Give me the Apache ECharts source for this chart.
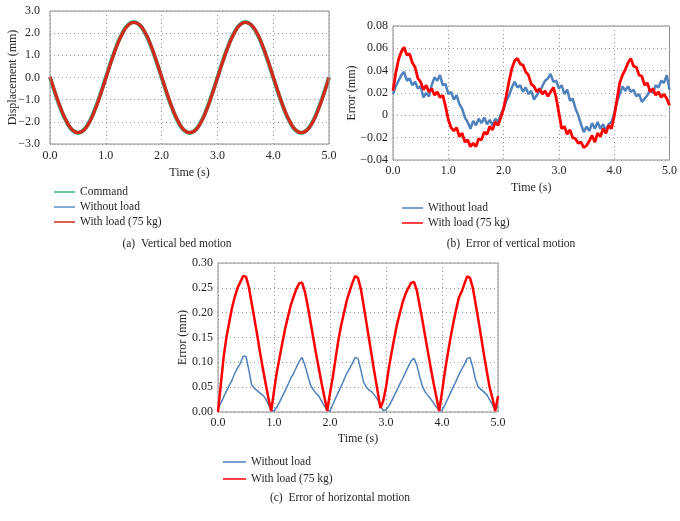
<!DOCTYPE html>
<html>
<head>
<meta charset="utf-8">
<script src="https://cdn.jsdelivr.net/npm/echarts@6/dist/echarts.min.js"></script>
<style>html,body{margin:0;padding:0;background:#fff;}#c{width:680px;height:521px;}</style>
</head>
<body>
<div id="c"></div>
<script>
// ---------- data ----------
var timeA = [0,0.1,0.2,0.3,0.4,0.5,0.6,0.7,0.8,0.9,1.0,1.1,1.2,1.3,1.4,1.5,1.6,1.7,1.8,1.9,2.0,2.1,2.2,2.3,2.4,2.5,2.6,2.7,2.8,2.9,3.0,3.1,3.2,3.3,3.4,3.5,3.6,3.7,3.8,3.9,4.0,4.1,4.2,4.3,4.4,4.5,4.6,4.7,4.8,4.9,5.0];
var commandA = [0,-0.77,-1.47,-2.02,-2.38,-2.50,-2.38,-2.02,-1.47,-0.77,0,0.77,1.47,2.02,2.38,2.50,2.38,2.02,1.47,0.77,0,-0.77,-1.47,-2.02,-2.38,-2.50,-2.38,-2.02,-1.47,-0.77,0,0.77,1.47,2.02,2.38,2.50,2.38,2.02,1.47,0.77,0,-0.77,-1.47,-2.02,-2.38,-2.50,-2.38,-2.02,-1.47,-0.77,0];
var noLoadA = [0.02,-0.75,-1.45,-2.00,-2.37,-2.49,-2.39,-2.04,-1.49,-0.79,-0.02,0.75,1.45,2.00,2.37,2.49,2.39,2.04,1.49,0.79,0.02,-0.75,-1.45,-2.00,-2.37,-2.49,-2.39,-2.04,-1.49,-0.79,-0.02,0.75,1.45,2.00,2.37,2.49,2.39,2.04,1.49,0.79,0.02,-0.75,-1.45,-2.00,-2.37,-2.49,-2.39,-2.04,-1.49,-0.79,0.0];
var loadA = [0.03,-0.74,-1.44,-1.99,-2.36,-2.49,-2.39,-2.05,-1.50,-0.80,-0.03,0.74,1.44,1.99,2.36,2.49,2.39,2.05,1.50,0.80,0.03,-0.74,-1.44,-1.99,-2.36,-2.49,-2.39,-2.05,-1.50,-0.80,-0.03,0.74,1.44,1.99,2.36,2.49,2.39,2.05,1.50,0.80,0.03,-0.74,-1.44,-1.99,-2.36,-2.49,-2.39,-2.05,-1.50,-0.80,0.0];

var timeBC = [0,0.05,0.1,0.15,0.2,0.25,0.3,0.35,0.4,0.45,0.5,0.55,0.6,0.65,0.7,0.75,0.8,0.85,0.9,0.95,1.0,1.05,1.1,1.15,1.2,1.25,1.3,1.35,1.4,1.45,1.5,1.55,1.6,1.65,1.7,1.75,1.8,1.85,1.9,1.95,2.0,2.05,2.1,2.15,2.2,2.25,2.3,2.35,2.4,2.45,2.5,2.55,2.6,2.65,2.7,2.75,2.8,2.85,2.9,2.95,3.0,3.05,3.1,3.15,3.2,3.25,3.3,3.35,3.4,3.45,3.5,3.55,3.6,3.65,3.7,3.75,3.8,3.85,3.9,3.95,4.0,4.05,4.1,4.15,4.2,4.25,4.3,4.35,4.4,4.45,4.5,4.55,4.6,4.65,4.7,4.75,4.8,4.85,4.9,4.95,5.0];

var noLoadB = [0.019,0.026,0.031,0.036,0.039,0.031,0.033,0.027,0.030,0.024,0.026,0.016,0.020,0.017,0.027,0.034,0.031,0.036,0.027,0.028,0.019,0.021,0.014,0.018,0.010,0.006,-0.002,-0.006,-0.012,-0.005,-0.009,-0.003,-0.007,-0.002,-0.008,-0.004,-0.009,-0.003,-0.006,0.001,0.006,0.013,0.018,0.025,0.030,0.025,0.027,0.021,0.025,0.019,0.022,0.014,0.018,0.022,0.026,0.031,0.033,0.037,0.030,0.031,0.024,0.027,0.019,0.023,0.013,0.015,0.006,0.000,-0.008,-0.015,-0.010,-0.014,-0.007,-0.012,-0.006,-0.012,-0.008,-0.014,-0.008,-0.006,0.002,0.012,0.019,0.026,0.022,0.026,0.021,0.023,0.017,0.019,0.012,0.015,0.018,0.023,0.020,0.027,0.025,0.031,0.029,0.036,0.023];
var loadB = [0.022,0.038,0.050,0.057,0.061,0.054,0.055,0.047,0.043,0.033,0.030,0.023,0.027,0.021,0.024,0.018,0.021,0.016,0.018,0.008,-0.004,-0.011,-0.014,-0.011,-0.019,-0.016,-0.024,-0.022,-0.028,-0.025,-0.028,-0.021,-0.022,-0.015,-0.017,-0.010,-0.013,-0.006,-0.009,-0.002,0.006,0.018,0.031,0.042,0.049,0.051,0.046,0.045,0.039,0.036,0.028,0.026,0.021,0.024,0.019,0.022,0.017,0.021,0.025,0.016,0.002,-0.012,-0.010,-0.017,-0.013,-0.020,-0.021,-0.025,-0.024,-0.029,-0.027,-0.023,-0.018,-0.024,-0.016,-0.019,-0.012,-0.016,-0.009,-0.012,-0.001,0.014,0.029,0.036,0.041,0.047,0.051,0.044,0.043,0.036,0.035,0.027,0.029,0.021,0.024,0.018,0.021,0.016,0.019,0.015,0.009];

var noLoadC = [0.005,0.018,0.030,0.042,0.053,0.064,0.078,0.089,0.098,0.112,0.112,0.085,0.055,0.048,0.043,0.038,0.034,0.027,0.015,0.003,0.002,0.010,0.020,0.032,0.043,0.055,0.068,0.078,0.090,0.102,0.110,0.095,0.075,0.055,0.045,0.038,0.032,0.022,0.012,0.004,0.002,0.015,0.028,0.040,0.052,0.065,0.078,0.088,0.098,0.110,0.108,0.085,0.060,0.050,0.044,0.040,0.033,0.025,0.013,0.003,0.004,0.012,0.022,0.034,0.045,0.057,0.068,0.080,0.092,0.103,0.108,0.095,0.072,0.052,0.040,0.033,0.026,0.018,0.010,0.003,0.003,0.014,0.026,0.038,0.050,0.062,0.075,0.086,0.096,0.108,0.110,0.090,0.065,0.050,0.045,0.040,0.035,0.025,0.015,0.005,0.012];
var loadC = [0.000,0.055,0.110,0.150,0.180,0.210,0.232,0.250,0.262,0.274,0.272,0.252,0.220,0.188,0.155,0.120,0.088,0.058,0.028,0.002,0.042,0.080,0.110,0.140,0.168,0.192,0.215,0.232,0.248,0.259,0.261,0.243,0.215,0.183,0.150,0.118,0.088,0.058,0.030,0.002,0.038,0.070,0.108,0.145,0.175,0.200,0.225,0.243,0.260,0.274,0.270,0.248,0.215,0.180,0.145,0.110,0.075,0.042,0.008,0.022,0.050,0.088,0.120,0.150,0.178,0.200,0.222,0.238,0.250,0.260,0.262,0.245,0.215,0.185,0.152,0.120,0.088,0.058,0.030,0.002,0.040,0.080,0.115,0.148,0.178,0.205,0.230,0.242,0.258,0.273,0.270,0.250,0.218,0.185,0.150,0.115,0.082,0.050,0.028,0.002,0.032];

function pairs(t, v){ var o=[]; for (var i=0;i<v.length;i++) o.push([t[i], v[i]]); return o; }

var FONT = "'Liberation Serif','Times New Roman',serif";
var TXT = '#231f20';
var GREEN = '#3cb878', BLUE_A = '#5b8fc9', RED_A = '#d42a1c';
var BLUE = '#4f81bd', RED = '#ff0000';

function minus(s){ return s.replace('-', '\u2212'); }

function xAxisDef(gi, nameGap, margin){
  return {
    type:'value', gridIndex:gi, min:0, max:5, interval:1,
    name:'Time (s)', nameLocation:'middle', nameGap:nameGap, nameMoveOverlap:false,
    nameTextStyle:{fontFamily:FONT, fontSize:12, color:TXT},
    axisLine:{show:false},
    axisTick:{show:false},
    axisLabel:{fontFamily:FONT, fontSize:12, color:TXT, margin:margin, formatter:function(v){return v.toFixed(1);}},
    splitLine:{show:true, lineStyle:{type:[1,3], color:'#9a9a9a'}}
  };
}
function yAxisDef(gi, min, max, interval, name, nameGap, margin, fmt){
  return {
    type:'value', gridIndex:gi, min:min, max:max, interval:interval,
    name:name, nameLocation:'middle', nameGap:nameGap, nameRotate:90, nameMoveOverlap:false,
    nameTextStyle:{fontFamily:FONT, fontSize:12, color:TXT},
    axisLine:{show:false},
    axisTick:{show:false},
    axisLabel:{fontFamily:FONT, fontSize:12, color:TXT, margin:margin, formatter:fmt},
    splitLine:{show:true, lineStyle:{type:[1,3], color:'#9a9a9a'}}
  };
}

var chart = echarts.init(document.getElementById('c'), null, {renderer:'canvas'});
var legendText = {fontFamily:FONT, fontSize:11.5, color:TXT};
chart.setOption({
  animation:false,
  backgroundColor:'#fff',
  grid:[
    {left:50, top:11, width:279, height:133, show:true, borderColor:'#8c8c8c', borderWidth:1, z:5},
    {left:393, top:26, width:278, height:134, show:true, borderColor:'#8c8c8c', borderWidth:1},
    {left:218, top:263, width:280, height:149, show:true, borderColor:'#8c8c8c', borderWidth:1}
  ],
  xAxis:[ xAxisDef(0, 23, 6), xAxisDef(1, 22, 5), xAxisDef(2, 21, 5) ],
  yAxis:[
    yAxisDef(0, -3, 3, 1, 'Displacement (mm)', 31, 10, function(v){ return minus(v.toFixed(1)); }),
    yAxisDef(1, -0.04, 0.08, 0.02, 'Error (mm)', 35, 5, function(v){ return Math.abs(v)<1e-9 ? '0' : minus(v.toFixed(2)); }),
    yAxisDef(2, 0, 0.3, 0.05, 'Error (mm)', 29, 5, function(v){ return v.toFixed(2); })
  ],
  legend:[
    {orient:'vertical', left:49, top:181, itemWidth:21, itemHeight:1.5, itemGap:3, icon:'rect', textStyle:legendText,
     data:[{name:'Command', itemStyle:{color:GREEN}},{name:'Without load', itemStyle:{color:BLUE_A}},{name:'With load (75 kg)', itemStyle:{color:RED_A}}]},
    {orient:'vertical', left:397, top:197, itemWidth:21, itemHeight:1.5, itemGap:3, icon:'rect', textStyle:legendText,
     data:[{name:'Without load', itemStyle:{color:BLUE}},{name:'With load (75 kg)', itemStyle:{color:RED}}]},
    {orient:'vertical', left:218, top:451, itemWidth:23, itemHeight:1.5, itemGap:5, icon:'rect', textStyle:legendText,
     data:[{name:'Without load', itemStyle:{color:BLUE}},{name:'With load (75 kg)', itemStyle:{color:RED}}]}
  ],
  graphic:[
    {type:'text', x:177, y:244, style:{text:'(a)  Vertical bed motion', font:'11.5px '+FONT, fill:TXT, textAlign:'center', textVerticalAlign:'middle'}},
    {type:'text', x:511, y:244, style:{text:'(b)  Error of vertical motion', font:'11.5px '+FONT, fill:TXT, textAlign:'center', textVerticalAlign:'middle'}},
    {type:'text', x:340, y:498, style:{text:'(c)  Error of horizontal motion', font:'11.5px '+FONT, fill:TXT, textAlign:'center', textVerticalAlign:'middle'}}
  ],
  series:[
    {name:'Command', type:'line', xAxisIndex:0, yAxisIndex:0, data:pairs(timeA, commandA), smooth:true, showSymbol:false, lineStyle:{color:GREEN, width:4}, itemStyle:{color:GREEN}, z:2},
    {name:'Without load', type:'line', xAxisIndex:0, yAxisIndex:0, data:pairs(timeA, noLoadA), smooth:true, showSymbol:false, lineStyle:{color:BLUE_A, width:3}, itemStyle:{color:BLUE_A}, z:3},
    {name:'With load (75 kg)', type:'line', xAxisIndex:0, yAxisIndex:0, data:pairs(timeA, loadA), smooth:true, showSymbol:false, lineStyle:{color:RED_A, width:3.2}, itemStyle:{color:RED_A}, z:4},

    {name:'Without load', type:'line', xAxisIndex:1, yAxisIndex:1, data:pairs(timeBC, noLoadB), showSymbol:false, lineStyle:{color:BLUE, width:2.5}, itemStyle:{color:BLUE}, z:3},
    {name:'With load (75 kg)', type:'line', xAxisIndex:1, yAxisIndex:1, data:pairs(timeBC, loadB), showSymbol:false, lineStyle:{color:RED, width:2.8}, itemStyle:{color:RED}, z:4},

    {name:'Without load', type:'line', xAxisIndex:2, yAxisIndex:2, data:pairs(timeBC, noLoadC), showSymbol:false, lineStyle:{color:BLUE, width:1.5}, itemStyle:{color:BLUE}, z:3},
    {name:'With load (75 kg)', type:'line', xAxisIndex:2, yAxisIndex:2, data:pairs(timeBC, loadC), showSymbol:false, lineStyle:{color:RED, width:2.5}, itemStyle:{color:RED}, z:4}
  ]
});
</script>
</body>
</html>
